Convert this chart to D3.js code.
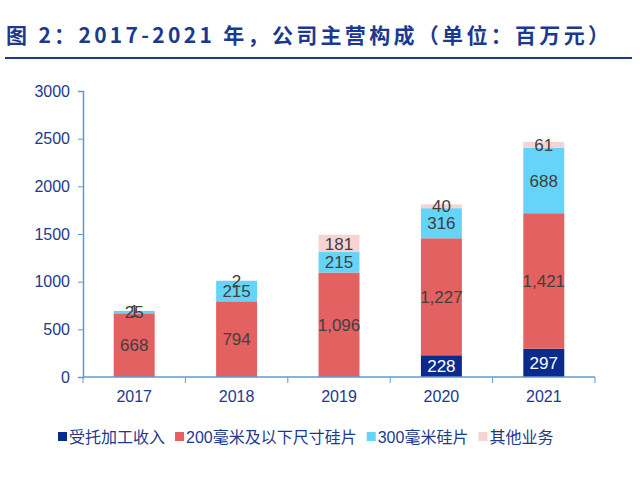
<!DOCTYPE html>
<html>
<head>
<meta charset="utf-8">
<script src="https://cdn.jsdelivr.net/npm/d3@7"></script>
<style>
  body { margin: 0; background: #fff; }
  svg { font-family: Arial, "Liberation Sans", "Noto Sans CJK SC", sans-serif; }
</style>
</head>
<body>
<div id="chart"></div>
<script>
// data (unit: 百万元)
const years = ["2017", "2018", "2019", "2020", "2021"];
const seriesNames = ["受托加工收入", "200毫米及以下尺寸硅片", "300毫米硅片", "其他业务"];
const contract = [0, 0, 0, 228, 297];
const wafer200 = [668, 794, 1096, 1227, 1421];
const wafer300 = [25, 215, 215, 316, 688];
const other = [1, 2, 181, 40, 61];
const yTicks = [0, 500, 1000, 1500, 2000, 2500, 3000];

const colors = ["#0b2b8c", "#e46161", "#66d4f8", "#f7d3d3"];
const labelColors = ["#ffffff", "#404040", "#404040", "#404040"];

const width = 640, height = 480;
const margin = { left: 83, right: 45, top: 91, bottom: 103 };

const svg = d3.select('#chart')
    .append('svg')
    .attr('width', width)
    .attr('height', height)
;

// title + rule under it
svg.append('text')
    .attr('x', 6)
    .attr('y', 43)
    .attr('fill', '#1b3a8e')
    .attr('font-size', 21)
    .attr('font-weight', 'bold')
    .attr('font-family', '"Noto Sans CJK SC", sans-serif')
    .attr('textLength', 603)
    .attr('lengthAdjust', 'spacing')
    .text('图 2：2017-2021 年，公司主营构成（单位：百万元）')
;
svg.append('line')
    .attr('x1', 5).attr('x2', 632)
    .attr('y1', 58).attr('y2', 58)
    .attr('stroke', '#1b3a8e')
    .attr('stroke-width', 2)
;

const table = years.map((y, i) => ({
    year: y,
    s0: contract[i], s1: wafer200[i], s2: wafer300[i], s3: other[i]
}));
const stack = d3.stack().keys(["s0", "s1", "s2", "s3"]);
const layers = stack(table);

const x = d3.scaleBand()
    .domain(years)
    .range([margin.left, width - margin.right])
    .paddingInner(0.6)
    .paddingOuter(0.3)
;
const y = d3.scaleLinear()
    .domain([0, 3000])
    .range([height - margin.bottom, margin.top])
;

// y axis
const yAxis = svg.append('g')
    .attr('transform', `translate(${margin.left},0)`)
    .call(d3.axisLeft(y).tickValues(yTicks).tickSize(5).tickPadding(8).tickFormat(d3.format('d')))
;
yAxis.select('.domain').attr('stroke', '#5b9bd5').attr('stroke-width', 1.5);
yAxis.selectAll('.tick line').attr('stroke', '#5b9bd5');
yAxis.selectAll('.tick text')
    .attr('fill', '#1b3a8e')
    .attr('font-size', 16)
;

// bars
svg.append('g')
    .selectAll('g')
    .data(layers)
    .join('g')
    .attr('fill', (d, i) => colors[i])
    .selectAll('rect')
    .data(d => d)
    .join('rect')
    .attr('x', d => x(d.data.year))
    .attr('width', x.bandwidth())
    .attr('y', d => y(d[1]))
    .attr('height', d => y(d[0]) - y(d[1]))
;

// segment labels
const fmt = d3.format(',');
layers.forEach((layer, i) => {
    svg.append('g')
        .selectAll('text')
        .data(layer.filter(d => d[1] - d[0] > 0))
        .join('text')
        .attr('x', d => x(d.data.year) + x.bandwidth() / 2)
        .attr('y', d => y((d[0] + d[1]) / 2))
        .attr('dy', '0.36em')
        .attr('text-anchor', 'middle')
        .attr('fill', labelColors[i])
        .attr('font-size', 17)
        .text(d => fmt(d[1] - d[0]))
    ;
});

// x axis, ticks between categories
const x0 = height - margin.bottom;
svg.append('line')
    .attr('x1', margin.left).attr('x2', width - margin.right)
    .attr('y1', x0).attr('y2', x0)
    .attr('stroke', '#5b9bd5')
    .attr('stroke-width', 1.5)
;
const edges = d3.range(years.length + 1).map(i => margin.left + i * (width - margin.left - margin.right) / years.length);
svg.append('g')
    .selectAll('line')
    .data(edges)
    .join('line')
    .attr('x1', d => d).attr('x2', d => d)
    .attr('y1', x0).attr('y2', x0 + 6)
    .attr('stroke', '#5b9bd5')
;
svg.append('g')
    .selectAll('text')
    .data(years)
    .join('text')
    .attr('x', d => x(d) + x.bandwidth() / 2)
    .attr('y', x0 + 25)
    .attr('text-anchor', 'middle')
    .attr('fill', '#1b3a8e')
    .attr('font-size', 16)
    .text(d => d)
;

// legend
const legend = svg.append('g').attr('transform', 'translate(58,437)');
let lx = 0;
seriesNames.forEach((name, i) => {
    const g = legend.append('g').attr('transform', `translate(${lx},0)`);
    g.append('rect')
        .attr('x', 0).attr('y', -5)
        .attr('width', 9).attr('height', 9)
        .attr('fill', colors[i]);
    const t = g.append('text')
        .attr('x', 11).attr('y', 0)
        .attr('dy', '0.35em')
        .attr('fill', '#1b3a8e')
        .attr('font-size', 16)
        .text(name);
    lx += 11 + t.node().getComputedTextLength() + 10;
});
</script>
</body>
</html>
